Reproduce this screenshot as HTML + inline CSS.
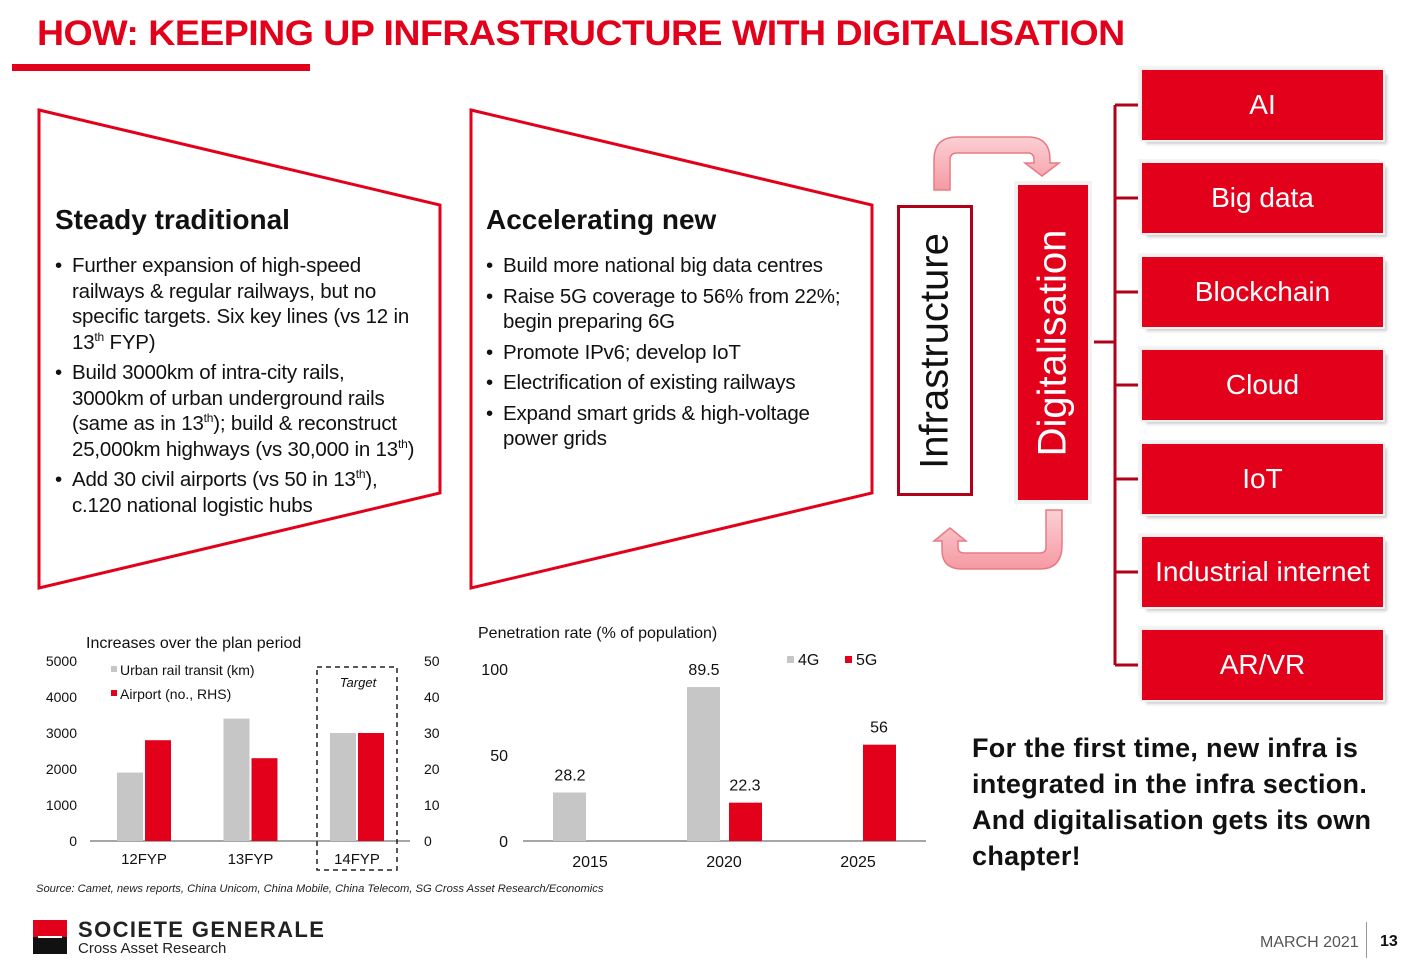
<!DOCTYPE html>
<html><head><meta charset="utf-8"><style>
body{margin:0;width:1412px;height:965px;background:#fff;overflow:hidden;font-family:"Liberation Sans",sans-serif;position:relative}
.abs{position:absolute}
.bul{font-size:20.5px;line-height:25.5px;color:#111;margin:0;padding:0;list-style:none;letter-spacing:-0.2px;white-space:nowrap}
.bul li{position:relative;padding-left:17px;margin-bottom:5px}
.bul li:before{content:"•";position:absolute;left:0;top:0}
.box{position:absolute;left:1142px;width:241px;height:70px;background:#e2001a;color:#fff;font-size:28px;display:flex;align-items:center;justify-content:center;box-shadow:-4px -4px 0 #f4f4f4,4px 4px 3px #ccc;outline:2px solid #f0f0f0}
sup{font-size:12px;line-height:0;vertical-align:8px}
</style></head><body>
<div class="abs" style="left:37px;top:14px;font-size:35px;font-weight:900;color:#e2001a;letter-spacing:-0.5px;white-space:nowrap;transform:scaleX(1.072);transform-origin:left">HOW: KEEPING UP INFRASTRUCTURE WITH DIGITALISATION</div>
<div class="abs" style="left:12px;top:64px;width:298px;height:7px;background:#e2001a"></div>

<svg class="abs" style="left:0;top:0" width="1412" height="965">
<polygon points="39,110 440,205 440,493 39,588" fill="none" stroke="#e2001a" stroke-width="3"/>
<polygon points="471,110 872,205 872,493 471,588" fill="none" stroke="#e2001a" stroke-width="3"/>
<defs><linearGradient id="pk" x1="0" y1="0" x2="0" y2="1"><stop offset="0" stop-color="#fbd0d4"/><stop offset="1" stop-color="#f59aa3"/></linearGradient></defs>
<path d="M934,190 L934,160 Q934,137 957,137 L1028,137 Q1050,137 1050,160 L1050,163 L1059,163 L1042,176 L1025,163 L1034,163 L1034,160 Q1034,153 1028,153 L957,153 Q950,153 950,160 L950,190 Z" fill="url(#pk)" stroke="#e87a86" stroke-width="1.5"/>
<path d="M1062,510 L1062,545 Q1062,569 1040,569 L962,569 Q942,569 942,550 L942,541 L934,541 L950,528 L966,541 L958,541 L958,547 Q958,553 964,553 L1040,553 Q1046,553 1046,547 L1046,510 Z" fill="url(#pk)" stroke="#e87a86" stroke-width="1.5"/>
<g stroke="#b0001a" stroke-width="3" fill="none">
<line x1="1115" y1="105" x2="1115" y2="665"/><line x1="1094" y1="342" x2="1115" y2="342"/>
<line x1="1115" y1="105" x2="1138" y2="105"/><line x1="1115" y1="198" x2="1138" y2="198"/><line x1="1115" y1="292" x2="1138" y2="292"/><line x1="1115" y1="385" x2="1138" y2="385"/><line x1="1115" y1="479" x2="1138" y2="479"/><line x1="1115" y1="572" x2="1138" y2="572"/><line x1="1115" y1="665" x2="1138" y2="665"/>
</g>
</svg>

<div class="abs" style="left:55px;top:204px;font-size:28px;font-weight:bold;color:#111">Steady traditional</div>
<ul class="abs bul" style="left:55px;top:253px">
<li>Further expansion of high-speed<br>railways &amp; regular railways, but no<br>specific targets. Six key lines (vs 12 in<br>13<sup>th</sup> FYP)</li>
<li>Build 3000km of intra-city rails,<br>3000km of urban underground rails<br>(same as in 13<sup>th</sup>); build &amp; reconstruct<br>25,000km highways (vs 30,000 in 13<sup>th</sup>)</li>
<li>Add 30 civil airports (vs 50 in 13<sup>th</sup>),<br>c.120 national logistic hubs</li>
</ul>
<div class="abs" style="left:486px;top:204px;font-size:28px;font-weight:bold;color:#111">Accelerating new</div>
<ul class="abs bul" style="left:486px;top:253px">
<li>Build more national big data centres</li>
<li>Raise 5G coverage to 56% from 22%;<br>begin preparing 6G</li>
<li>Promote IPv6; develop IoT</li>
<li>Electrification of existing railways</li>
<li>Expand smart grids &amp; high-voltage<br>power grids</li>
</ul>

<div class="abs" style="left:897px;top:205px;width:70px;height:285px;border:3px solid #b0001a;background:#fff"><div style="position:absolute;left:50%;top:50%;transform:translate(-50%,-50%) rotate(-90deg);font-size:40px;white-space:nowrap;color:#111">Infrastructure</div></div>
<div class="abs" style="left:1018px;top:185px;width:70px;height:315px;background:#e2001a;outline:4px solid #f2f2f2"><div style="position:absolute;left:50%;top:50%;transform:translate(-50%,-50%) rotate(-90deg);font-size:40px;white-space:nowrap;color:#fff">Digitalisation</div></div>

<div class="box" style="top:70px">AI</div>
<div class="box" style="top:163px">Big data</div>
<div class="box" style="top:257px">Blockchain</div>
<div class="box" style="top:350px">Cloud</div>
<div class="box" style="top:444px">IoT</div>
<div class="box" style="top:537px">Industrial internet</div>
<div class="box" style="top:630px">AR/VR</div>

<div class="abs" style="left:972px;top:730px;font-size:27px;font-weight:bold;line-height:36px;color:#111;letter-spacing:0.3px">For the first time, new infra is<br>integrated in the infra section.<br>And digitalisation gets its own<br>chapter!</div>

<svg class="abs" style="left:0;top:600px" width="940" height="290" id="charts"></svg>

<div class="abs" style="left:36px;top:883px;font-size:11.2px;font-style:italic;color:#222">Source: Camet, news reports, China Unicom, China Mobile, China Telecom, SG Cross Asset Research/Economics</div>
<div class="abs" style="left:33px;top:920px;width:34px;height:17px;background:#e2001a"></div>
<div class="abs" style="left:33px;top:937px;width:34px;height:17px;background:#111"></div>
<div class="abs" style="left:38px;top:936px;width:24px;height:2px;background:#fff"></div>
<div class="abs" style="left:78px;top:917px;font-size:22px;font-weight:bold;color:#222;letter-spacing:1.4px">SOCIETE GENERALE</div>
<div class="abs" style="left:78px;top:940px;font-size:15px;color:#222">Cross Asset Research</div>
<div class="abs" style="left:1260px;top:934px;font-size:16px;color:#555">MARCH 2021</div>
<div class="abs" style="left:1366px;top:922px;width:1px;height:36px;background:#999"></div>
<div class="abs" style="left:1380px;top:933px;font-size:16px;font-weight:bold;color:#111">13</div>

<script>
const cats1=["12FYP","13FYP","14FYP"];
const urbanRail=[1900,3400,3000];
const airports=[28,23,30];
const leftTicks=[0,1000,2000,3000,4000,5000];
const rightTicks=[0,10,20,30,40,50];
const cats2=["2015","2020","2025"];
const pen4G=[28.2,89.5,null];
const pen5G=[null,22.3,56];
const penTicks=[0,50,100];

const svg=document.getElementById('charts');
const NS="http://www.w3.org/2000/svg";
function mk(t,a,txt,name){const e=document.createElementNS(NS,t);for(const k in a)e.setAttribute(k,a[k]);if(txt!==undefined)e.textContent=txt;


svg.appendChild(e);return e;}
const OY=-600;
const GRAY="#c6c6c6",RED="#e2001a";
const base1=841+OY;
const yL=v=>base1-v*180/5000;
const yR=v=>base1-v*180/50;
const x1=i=>144+i*106.5;
mk('text',{x:86,y:648+OY,'font-size':16,fill:'#111'},'Increases over the plan period','chart1-title');
leftTicks.forEach(t=>mk('text',{x:77,y:yL(t)+5,'font-size':14,'text-anchor':'end',fill:'#111'},t,'left-y-tick'));
rightTicks.forEach(t=>mk('text',{x:424,y:yR(t)+5,'font-size':14,fill:'#111'},t,'right-y-tick'));
mk('line',{x1:90,x2:410,y1:base1,y2:base1,stroke:'#888','stroke-width':1.5},undefined,'chart1-x-axis');
cats1.forEach((c,i)=>{
 mk('rect',{x:x1(i)-27,y:yL(urbanRail[i]),width:26,height:base1-yL(urbanRail[i]),fill:GRAY},undefined,'urban-rail-bar');
 mk('rect',{x:x1(i)+1,y:yR(airports[i]),width:26,height:base1-yR(airports[i]),fill:RED},undefined,'airport-bar');
 mk('text',{x:x1(i),y:base1+23,'font-size':15,'text-anchor':'middle',fill:'#111'},c,'chart1-x-label');
});
mk('rect',{x:317,y:667+OY,width:80,height:203,fill:'none',stroke:'#222','stroke-dasharray':'5,4','stroke-width':1.5},undefined,'target-box');
mk('text',{x:358,y:687+OY,'font-size':13,'font-style':'italic','text-anchor':'middle',fill:'#111'},'Target','target-label');
mk('rect',{x:111,y:666+OY,width:6,height:6,fill:GRAY},undefined,'legend-urban-swatch');
mk('text',{x:120,y:675+OY,'font-size':14,fill:'#111'},'Urban rail transit (km)','legend-urban-rail');
mk('rect',{x:111,y:690+OY,width:6,height:6,fill:RED},undefined,'legend-airport-swatch');
mk('text',{x:120,y:699+OY,'font-size':14,fill:'#111'},'Airport (no., RHS)','legend-airport');
const base2=841+OY;
const y2=v=>base2-v*1.72;
const x2=i=>590+i*134;
mk('text',{x:478,y:638+OY,'font-size':16,fill:'#111'},'Penetration rate (% of population)','chart2-title');
penTicks.forEach(t=>mk('text',{x:508,y:y2(t)+6,'font-size':16,'text-anchor':'end',fill:'#111'},t,'chart2-y-tick'));
mk('line',{x1:523,x2:926,y1:base2,y2:base2,stroke:'#888','stroke-width':1.5},undefined,'chart2-x-axis');
cats2.forEach((c,i)=>{
 if(pen4G[i]!=null){mk('rect',{x:x2(i)-37,y:y2(pen4G[i]),width:33,height:base2-y2(pen4G[i]),fill:GRAY},undefined,'bar-4g');
  mk('text',{x:x2(i)-20,y:y2(pen4G[i])-12,'font-size':16,'text-anchor':'middle',fill:'#111'},pen4G[i],'value-4g');}
 if(pen5G[i]!=null){mk('rect',{x:x2(i)+5,y:y2(pen5G[i]),width:33,height:base2-y2(pen5G[i]),fill:RED},undefined,'bar-5g');
  mk('text',{x:x2(i)+21,y:y2(pen5G[i])-12,'font-size':16,'text-anchor':'middle',fill:'#111'},pen5G[i],'value-5g');}
 mk('text',{x:x2(i),y:base2+26,'font-size':16,'text-anchor':'middle',fill:'#111'},c,'chart2-x-label');
});
mk('rect',{x:787,y:656+OY,width:7,height:7,fill:GRAY},undefined,'legend-4g-swatch');
mk('text',{x:798,y:665+OY,'font-size':16,fill:'#111'},'4G','legend-4g');
mk('rect',{x:845,y:656+OY,width:7,height:7,fill:RED},undefined,'legend-5g-swatch');
mk('text',{x:856,y:665+OY,'font-size':16,fill:'#111'},'5G','legend-5g');
</script>
</body></html>
